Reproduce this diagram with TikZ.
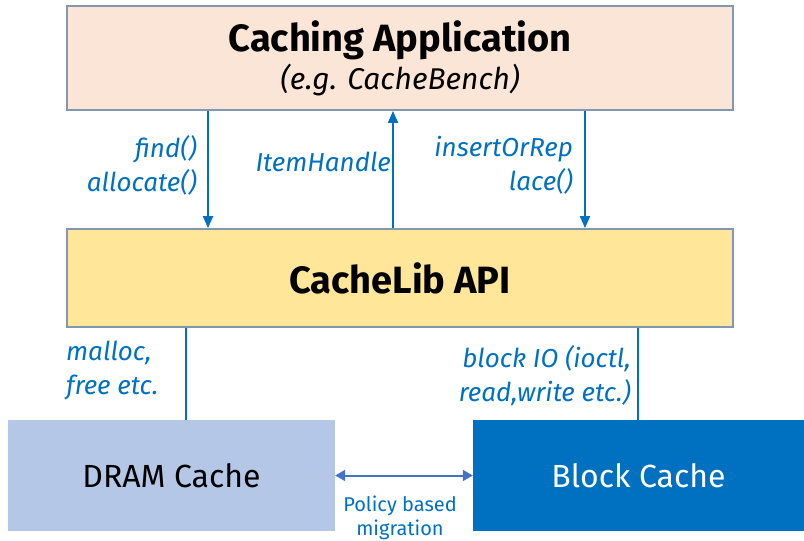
\documentclass[tikz,border=0pt]{standalone}
\usepackage{fontspec}
\setmainfont{Fira Sans}
\usetikzlibrary{arrows.meta,positioning}

\definecolor{appfill}{HTML}{FBE5D6}
\definecolor{apifill}{HTML}{FFE699}
\definecolor{boxline}{HTML}{8497B0}
\definecolor{dramfill}{HTML}{B4C7E7}
\definecolor{intelblue}{HTML}{0070C0}
\definecolor{migblue}{HTML}{4472C4}

\tikzset{
  layer/.style={draw=boxline, line width=1.8pt, minimum width=666pt, align=center},
  store/.style={minimum width=#1, minimum height=111pt, font=\fontsize{32}{36}\selectfont},
  call/.style={-{Triangle[length=12pt,width=10pt]}, draw=intelblue, line width=1.8pt},
  wire/.style={draw=intelblue, line width=1.8pt},
  lbl/.style={text=intelblue, font=\fontsize{26}{34}\selectfont\itshape, inner sep=0pt},
}

\begin{document}
\begin{tikzpicture}[x=1pt,y=-1pt]
  \useasboundingbox (0,0) rectangle (804,541);

  % layers
  \node[layer, fill=appfill, minimum height=104pt] (app) at (400,58)
    {{\fontsize{38}{40}\selectfont\bfseries Caching Application}\\[3pt]
     {\fontsize{30}{34}\selectfont\itshape (e.g. CacheBench)}};
  \node[layer, fill=apifill, minimum height=98pt, font=\fontsize{38}{40}\selectfont\bfseries] (api) at (400,278) {CacheLib API};

  % caches
  \node[store=327pt, fill=dramfill] (dram) at (171.5,475.5) {DRAM Cache};
  \node[store=331pt, fill=intelblue, text=white] (block) at (638.5,475.5) {Block Cache};

  % calls between application and api
  \coordinate (xf) at (208,0);
  \coordinate (xi) at (393,0);
  \coordinate (xr) at (585,0);
  \draw[call] (app.south -| xf) -- (api.north -| xf);
  \draw[call] (api.north -| xi) -- (app.south -| xi);
  \draw[call] (app.south -| xr) -- (api.north -| xr);

  \node[lbl, anchor=east, align=right] (find) at (197,165) {find()\\allocate()};
  \node[lbl, anchor=east] (handle) at (391,162) {ItemHandle};
  \node[lbl, anchor=east, align=right] (insert) at (573,165) {insertOrRep\\lace()};

  % api down to the caches
  \coordinate (xd) at (186,0);
  \coordinate (xb) at (638,0);
  \draw[wire] (api.south -| xd) -- (dram.north -| xd);
  \draw[wire] (api.south -| xb) -- (block.north -| xb);

  \node[lbl, anchor=west, align=left] (malloc) at (66,371) {malloc,\\free etc.};
  \node[lbl, anchor=east, align=right] (blockio) at (631,376) {block IO (ioctl,\\read,write etc.)};

  % migration
  \draw[{Triangle[length=10pt,width=11pt]}-{Triangle[length=10pt,width=11pt]}, draw=migblue, fill=migblue, line width=2pt] (dram.east) -- (block.east -| block.west);
  \node[text=intelblue, align=center, font=\fontsize{20}{24}\selectfont, inner sep=0pt] (policy) at (400,518) {Policy based\\migration};
\end{tikzpicture}
\end{document}
